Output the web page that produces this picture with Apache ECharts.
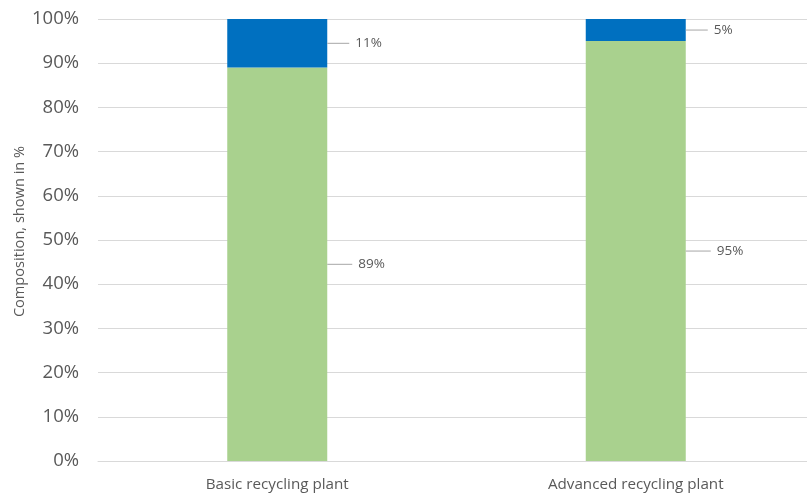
<!DOCTYPE html>
<html>
<head>
<meta charset="utf-8">
<script src="https://cdn.jsdelivr.net/npm/echarts@6/dist/echarts.min.js"></script>
<style>
  html, body { margin: 0; padding: 0; background: #fff; }
  #chart { width: 807px; height: 495px; }
</style>
</head>
<body>
<div id="chart"></div>
<script>
// Plant types along the x axis
const categories = ['Basic recycling plant', 'Advanced recycling plant'];
// Composition shares, in percent
const greenShare = [89, 95];
const blueShare = [11, 5];
// Y axis tick values (percent)
const yTicks = [0, 10, 20, 30, 40, 50, 60, 70, 80, 90, 100];

const FONT = 'Open Sans';
const TEXT = '#595959';

// Value label to the right of a segment, joined to it by a short grey leader line
function leaderLabel(lineWidth) {
  return {
    show: true,
    position: 'right',
    distance: 0,
    formatter: p => '{l|}{v|' + p.value + '%}',
    rich: {
      l: { width: lineWidth, height: 1, backgroundColor: '#a6a6a6', verticalAlign: 'middle' },
      v: { fontFamily: FONT, fontSize: 13.5, color: TEXT, padding: [0, 0, 0, 6], verticalAlign: 'middle' }
    }
  };
}

const chart = echarts.init(document.getElementById('chart'), null, { renderer: 'canvas' });
chart.setOption({
  animation: false,
  backgroundColor: '#ffffff',
  // the plot area runs slightly past the right edge of the canvas
  grid: { left: 98, width: 717, top: 19, bottom: 34, containLabel: false, outerBoundsMode: 'none' },
  xAxis: {
    type: 'category',
    data: categories,
    axisLine: { show: true, lineStyle: { color: '#d9d9d9', width: 1 } },
    axisTick: { show: false },
    axisLabel: { fontFamily: FONT, fontSize: 15.2, color: TEXT, margin: 16 }
  },
  yAxis: {
    type: 'value',
    min: yTicks[0],
    max: yTicks[yTicks.length - 1],
    interval: yTicks[1] - yTicks[0],
    name: 'Composition, shown in %',
    nameLocation: 'middle',
    nameRotate: 90,
    nameGap: 71,
    nameMoveOverlap: false,
    nameTextStyle: { fontFamily: FONT, fontSize: 14.6, color: TEXT, padding: [0, 0, 0, 17] },
    axisLine: { show: false },
    axisTick: { show: false },
    splitLine: { lineStyle: { color: '#d9d9d9', width: 1 } },
    axisLabel: { fontFamily: FONT, fontSize: 18.5, color: TEXT, margin: 19, formatter: v => v + '%' }
  },
  series: [
    {
      type: 'bar',
      stack: 'total',
      data: greenShare,
      barWidth: 100,
      itemStyle: { color: '#a9d18e' },
      label: leaderLabel(25)
    },
    {
      type: 'bar',
      stack: 'total',
      data: blueShare,
      barWidth: 100,
      itemStyle: { color: '#0070c0' },
      label: leaderLabel(22)
    }
  ]
});
</script>
</body>
</html>
